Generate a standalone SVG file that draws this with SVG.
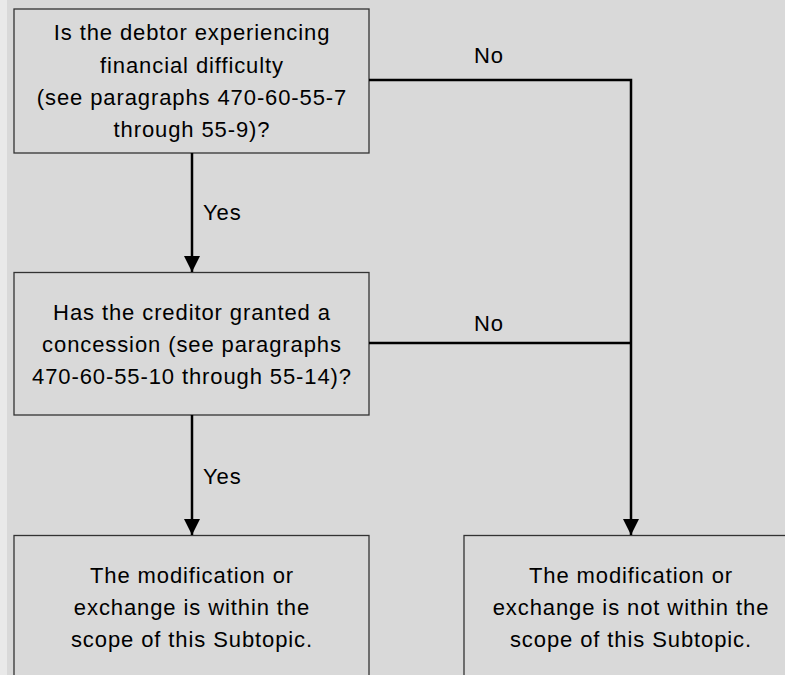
<svg xmlns="http://www.w3.org/2000/svg" width="785" height="675" viewBox="0 0 785 675">
  <style>
    .node rect { fill: #d9d9d9; stroke: #333333; stroke-width: 1.3; }
    .node text, .label { font-family: "Liberation Sans", Arial, sans-serif; font-size: 22px; letter-spacing: 0.9px; fill: #000000; text-anchor: middle; }
    .label { text-anchor: start; }
    .edge { fill: none; stroke: #000000; stroke-width: 2.5; }
  </style>
  <defs>
    <marker id="arrow" viewBox="0 0 16 16" refX="16" refY="8" markerWidth="16" markerHeight="16" markerUnits="userSpaceOnUse" orient="auto">
      <path d="M0,0 L16,8 L0,16 Z" fill="#000000"/>
    </marker>
  </defs>

  <!-- canvas -->
  <rect x="0" y="0" width="785" height="675" fill="#d9d9d9"/>
  <rect x="0" y="0" width="7" height="675" fill="#e9e9e9"/>

  <g id="q-difficulty" class="node">
    <rect x="14" y="9" width="355" height="144"/>
    <text x="192" y="40">Is the debtor experiencing</text>
    <text x="192" y="73">financial difficulty</text>
    <text x="192" y="105">(see paragraphs 470-60-55-7</text>
    <text x="192" y="137">through 55-9)?</text>
  </g>

  <g id="q-concession" class="node">
    <rect x="14" y="272.5" width="355" height="142.5"/>
    <text x="192" y="320">Has the creditor granted a</text>
    <text x="192" y="352">concession (see paragraphs</text>
    <text x="192" y="384">470-60-55-10 through 55-14)?</text>
  </g>

  <g id="r-within" class="node">
    <rect x="14" y="535.5" width="355" height="160"/>
    <text x="192" y="583">The modification or</text>
    <text x="192" y="615">exchange is within the</text>
    <text x="192" y="647">scope of this Subtopic.</text>
  </g>

  <g id="r-not-within" class="node">
    <rect x="464" y="535.5" width="340" height="160"/>
    <text x="631" y="583">The modification or</text>
    <text x="631" y="615">exchange is not within the</text>
    <text x="631" y="647">scope of this Subtopic.</text>
  </g>

  <g id="connectors">
    <line class="edge" x1="192" y1="153" x2="192" y2="272" marker-end="url(#arrow)"/>
    <line class="edge" x1="192" y1="415" x2="192" y2="535" marker-end="url(#arrow)"/>
    <polyline class="edge" points="369,80 631,80 631,535" marker-end="url(#arrow)"/>
    <line class="edge" x1="369" y1="343" x2="631" y2="343"/>
    <text class="label" x="203" y="220">Yes</text>
    <text class="label" x="203" y="484">Yes</text>
    <text class="label" x="474" y="63">No</text>
    <text class="label" x="474" y="331">No</text>
  </g>
</svg>
